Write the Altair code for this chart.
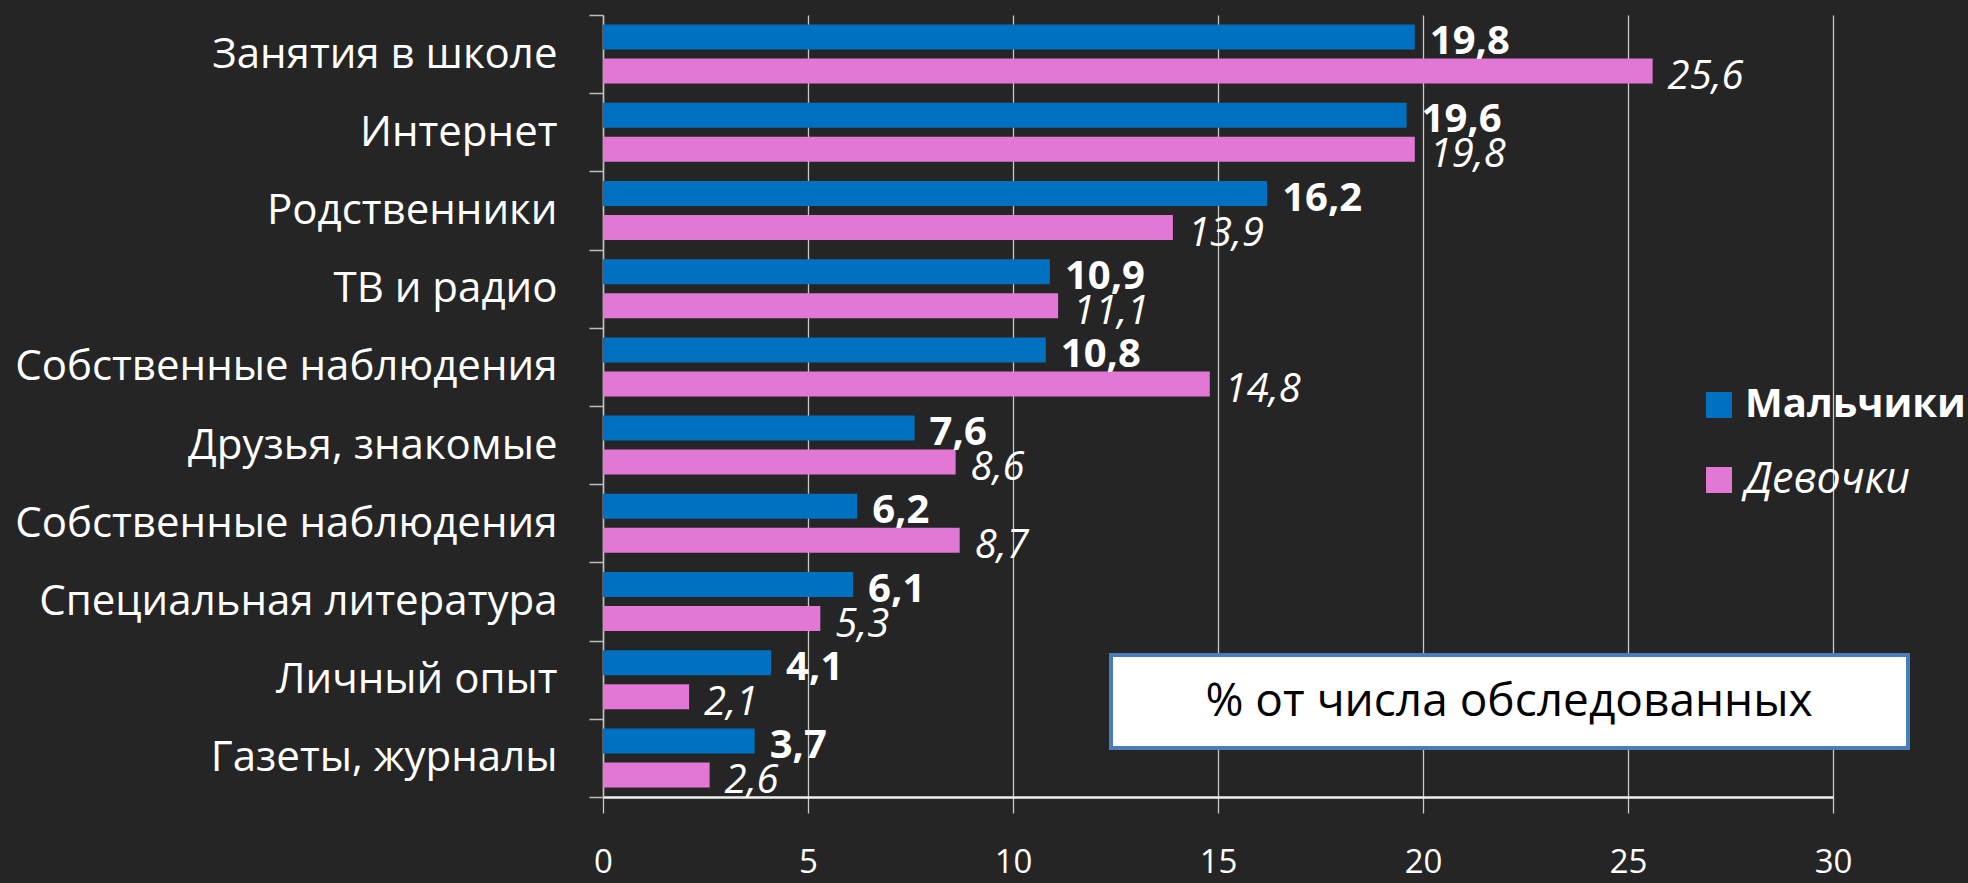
import json

import altair as alt
import pandas as pd

# Sources of information, % of respondents (boys / girls)
categories = [
    "Занятия в школе",
    "Интернет",
    "Родственники",
    "ТВ и радио",
    "Собственные наблюдения",
    "Друзья, знакомые",
    "Собственные наблюдения",
    "Специальная литература",
    "Личный опыт",
    "Газеты, журналы",
]
boys = [19.8, 19.6, 16.2, 10.9, 10.8, 7.6, 6.2, 6.1, 4.1, 3.7]
girls = [25.6, 19.8, 13.9, 11.1, 14.8, 8.6, 8.7, 5.3, 2.1, 2.6]
series = ["Мальчики", "Девочки"]
colors = ["#0070C0", "#E377D6"]
x_ticks = [0, 5, 10, 15, 20, 25, 30]
note = "% от числа обследованных"

FONT = "Open Sans"
BG = "#252525"

rows = []
for i in range(len(categories)):
    rows.append({"row": i, "series": series[0], "value": boys[i]})
    rows.append({"row": i, "series": series[1], "value": girls[i]})
df = pd.DataFrame(rows)
df["label"] = df["value"].map(lambda v: f"{v:.1f}".replace(".", ","))

# category names are looked up by row index (one name occurs twice)
label_expr = json.dumps(categories, ensure_ascii=False) + "[datum.value]"

y_enc = alt.Y(
    "row:O",
    sort="ascending",
    scale=alt.Scale(paddingInner=0, paddingOuter=0),
    axis=alt.Axis(
        title=None,
        labelExpr=label_expr,
        labelFont=FONT,
        labelFontSize=42,
        labelColor="white",
        labelPadding=32,
        labelLimit=700,
        tickSize=14,
        tickColor="#bfbfbf",
        tickWidth=1.5,
        tickBand="extent",
        domainColor="#bfbfbf",
        domainWidth=1.5,
        grid=False,
    ),
)
yoff_enc = alt.YOffset(
    "series:N",
    sort=series,
    scale=alt.Scale(domain=series, paddingInner=0.265, paddingOuter=0.2825),
)
x_enc = alt.X(
    "value:Q",
    scale=alt.Scale(domain=[0, 30], nice=False),
    axis=alt.Axis(
        title=None,
        values=x_ticks,
        labelFont=FONT,
        labelFontSize=33,
        labelColor="white",
        labelPadding=49,
        labelBaseline="middle",
        labelFlush=False,
        tickSize=16,
        tickColor="#c8c8c8",
        tickWidth=1.3,
        grid=True,
        gridColor="#c8c8c8",
        gridWidth=1.3,
        domainColor="#f0f0f0",
        domainWidth=2.5,
    ),
)

base = alt.Chart(df)

bars = base.mark_bar(cornerRadius=0).encode(
    x=x_enc,
    y=y_enc,
    yOffset=yoff_enc,
    color=alt.Color(
        "series:N", scale=alt.Scale(domain=series, range=colors), legend=None
    ),
)

boys_text = (
    base.transform_filter(alt.datum.series == series[0])
    .mark_text(
        align="left", baseline="middle", dx=15, dy=5,
        font=FONT, fontSize=40, fontWeight="bold", color="white",
    )
    .encode(x="value:Q", y="row:O", yOffset=yoff_enc, text="label:N")
)
girls_text = (
    base.transform_filter(alt.datum.series == series[1])
    .mark_text(
        align="left", baseline="middle", dx=15, dy=6,
        font=FONT, fontSize=40, fontStyle="italic", color="white",
    )
    .encode(x="value:Q", y="row:O", yOffset=yoff_enc, text="label:N")
)

# hand-placed legend to the right of the plot
legend_layers = []
for i, (name, col) in enumerate(zip(series, colors)):
    ldf = pd.DataFrame({"name": [name]})
    cy = 390 + 75 * i
    legend_layers.append(
        alt.Chart(ldf).mark_rect(color=col).encode(
            x=alt.value(1103), x2=alt.value(1129),
            y=alt.value(cy - 13), y2=alt.value(cy + 13),
        )
    )
    legend_layers.append(
        alt.Chart(ldf).mark_text(
            align="left", baseline="middle", font=FONT,
            fontSize=40 if i == 0 else 43,
            fontWeight="bold" if i == 0 else "normal",
            fontStyle="italic" if i == 1 else "normal",
            color="white",
        ).encode(x=alt.value(1142), y=alt.value(cy), text="name:N")
    )

# units note in a framed box
note_df = pd.DataFrame({"note": [note]})
note_box = alt.Chart(note_df).mark_rect(
    fill="white", stroke="#4A7EBB", strokeWidth=4
).encode(
    x=alt.value(508), x2=alt.value(1305), y=alt.value(640), y2=alt.value(733)
)
note_text = alt.Chart(note_df).mark_text(
    align="center", baseline="middle", font=FONT, fontSize=46, color="black"
).encode(x=alt.value(906), y=alt.value(687), text="note:N")

chart = (
    alt.layer(bars, boys_text, girls_text, *legend_layers, note_box, note_text)
    .properties(
        width=1230,
        height=782,
        autosize=alt.AutoSizeParams(type="none"),
        padding={"left": 603, "top": 15, "right": 135, "bottom": 86},
        background=BG,
    )
    .configure_view(stroke=None)
)

chart.save("out.html", embed_options={"renderer": "svg", "actions": False})
